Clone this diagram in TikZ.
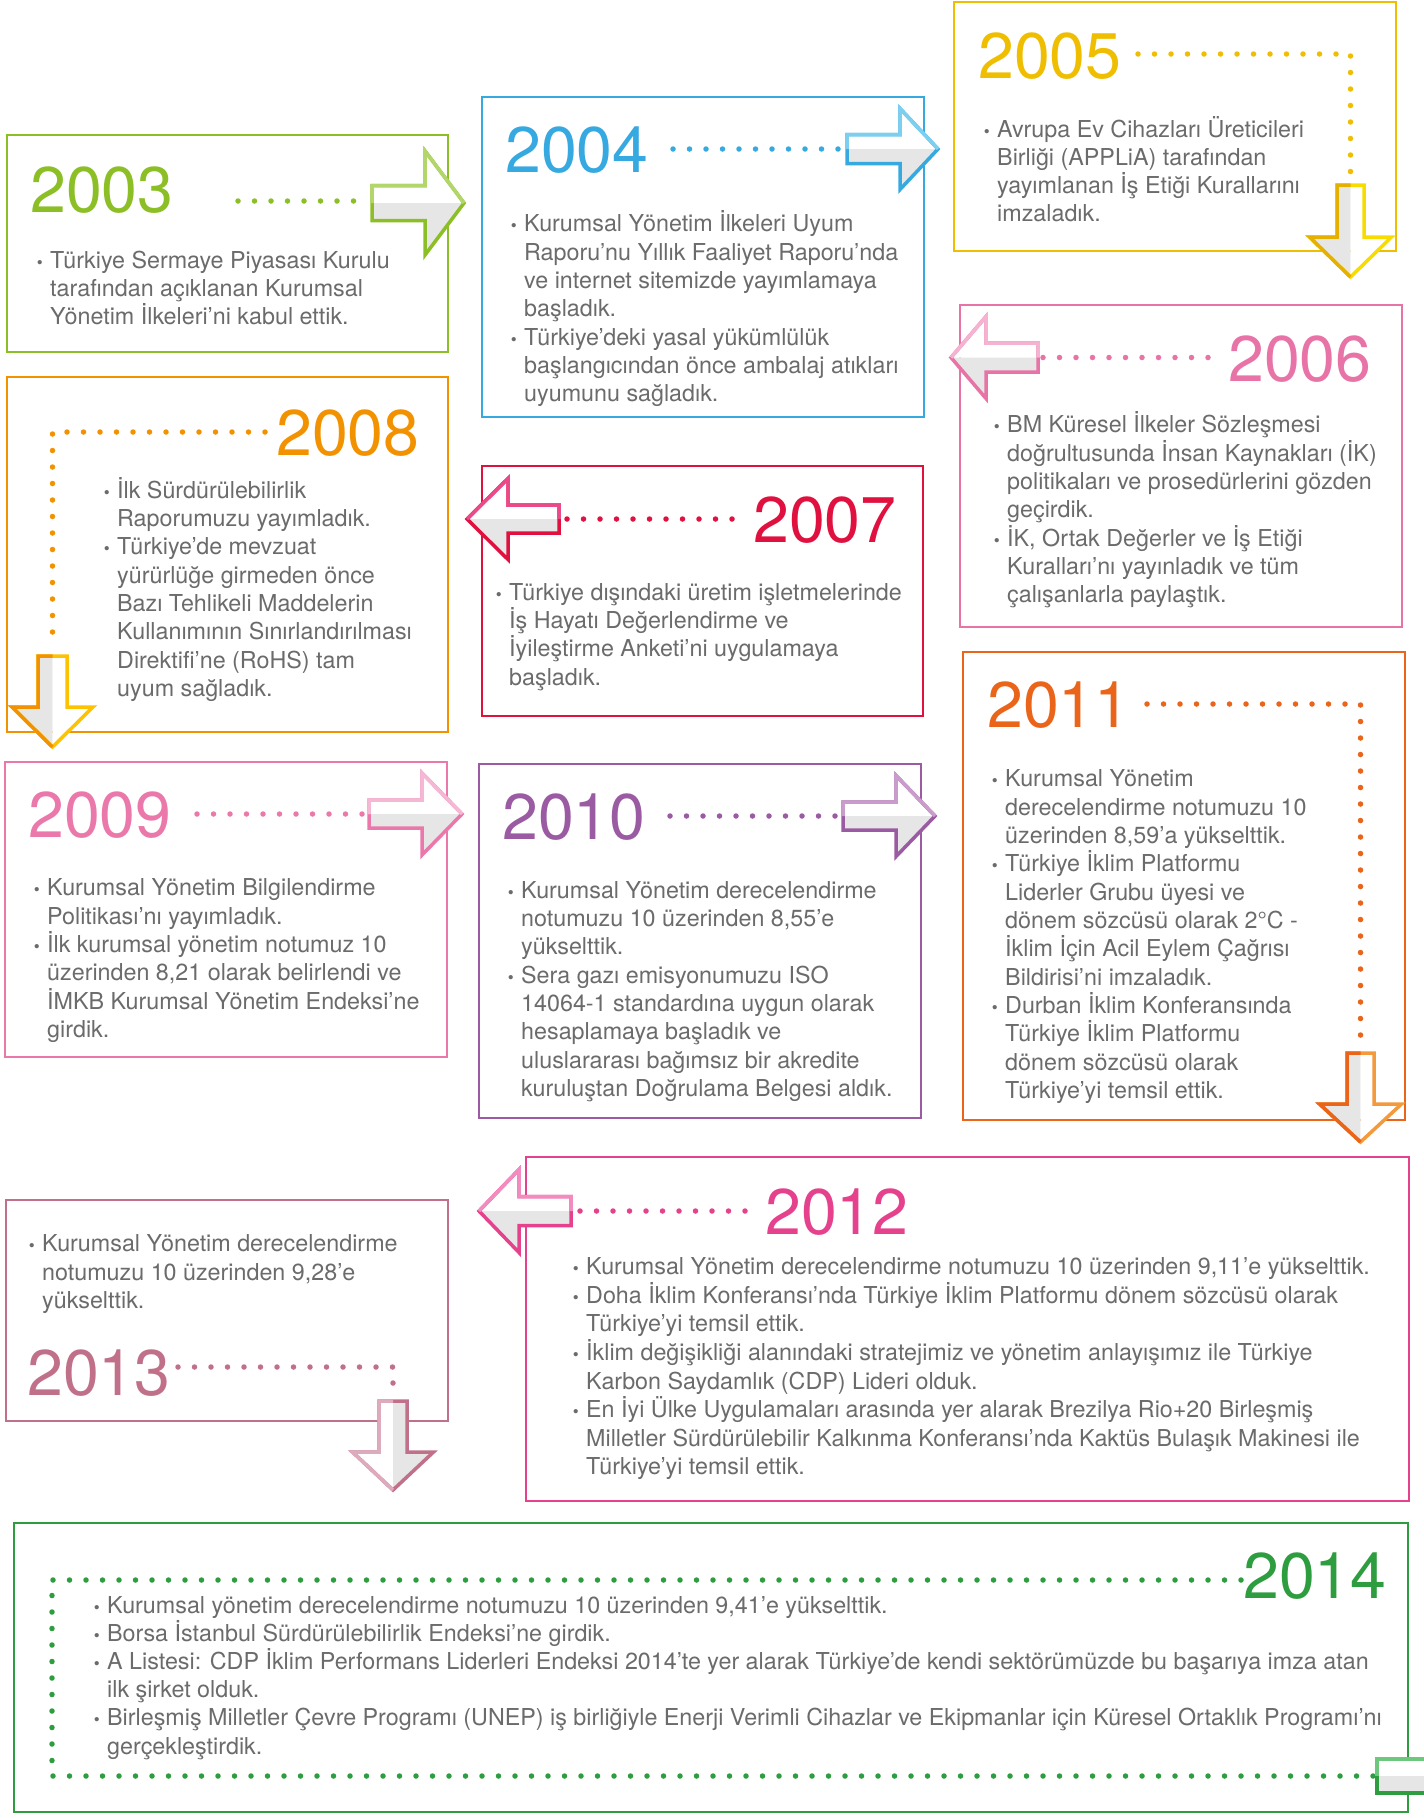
\documentclass[tikz,border=0pt]{standalone}
\usepackage{fontspec}
\setmainfont{TeX Gyre Heros}
\definecolor{tgray}{HTML}{6B6B6B}
\definecolor{agray}{HTML}{E6E6E6}
\definecolor{c03}{HTML}{8CBF26}\definecolor{l03}{HTML}{B3D66B}
\definecolor{c04}{HTML}{36A9E1}\definecolor{l04}{HTML}{7DCFF0}
\definecolor{c05}{HTML}{EFBE00}\definecolor{l05}{HTML}{F8DC00}\definecolor{d05}{HTML}{E6B000}
\definecolor{c06}{HTML}{E873A7}\definecolor{l06}{HTML}{F5B3D1}
\definecolor{c07}{HTML}{E0103F}\definecolor{l07}{HTML}{EA4A8A}
\definecolor{c08}{HTML}{F39200}\definecolor{l08}{HTML}{FDC300}
\definecolor{c09}{HTML}{EB78AA}\definecolor{l09}{HTML}{F5B8D4}
\definecolor{c10}{HTML}{9B5BA2}\definecolor{l10}{HTML}{C99CCC}
\definecolor{c11}{HTML}{EA6419}\definecolor{l11}{HTML}{F39B3C}
\definecolor{c12}{HTML}{E5418D}\definecolor{l12}{HTML}{F28CC0}
\definecolor{c13}{HTML}{C07189}\definecolor{l13}{HTML}{DEABBE}
\definecolor{c14}{HTML}{2E9D3F}\definecolor{l14}{HTML}{6DC77C}
\newcommand\bul{\llap{{\fontsize{17}{17}\selectfont •}\hspace{7.5pt}}}
\newcommand\sq{\symbol{39}}
\newcommand\tblock[5]{\foreach \tl [count=\ti from 0] in {#5}{\node[txt] (#1-\ti) at (#2,#3+#4*\ti) {\tl};}}
\newcommand\acol[4]{\colorlet{A1}{#1}\colorlet{A1f}{#2}\colorlet{A2}{#3}\colorlet{A2f}{#4}}
% horizontal arrow: tailx, cy, basex, tipx, shaft half, head half ; A1 upper, A2 lower
\newcommand\harr[6]{%
 \fill[A1f] (#1,#2-#5) -- (#3,#2-#5) -- (#3,#2-#6) -- (#4,#2) -- (#1,#2) -- cycle;
 \fill[A2f] (#1,#2+#5) -- (#3,#2+#5) -- (#3,#2+#6) -- (#4,#2) -- (#1,#2) -- cycle;
 \draw[A2,aline] (#1,#2-#5) -- (#3,#2-#5) -- (#3,#2-#6) -- (#4,#2) -- (#3,#2+#6) -- (#3,#2+#5) -- (#1,#2+#5) -- cycle;
 \draw[A1,aline] (#1,#2) -- (#1,#2-#5) -- (#3,#2-#5) -- (#3,#2-#6) -- (#4,#2);
}
% vertical arrow: cx, taily, basey, tipy, shaft half, head half ; A1 left, A2 right
\newcommand\varr[6]{%
 \fill[A1f] (#1-#5,#2) -- (#1-#5,#3) -- (#1-#6,#3) -- (#1,#4) -- (#1,#2) -- cycle;
 \fill[A2f] (#1+#5,#2) -- (#1+#5,#3) -- (#1+#6,#3) -- (#1,#4) -- (#1,#2) -- cycle;
 \draw[A2,aline] (#1-#5,#2) -- (#1-#5,#3) -- (#1-#6,#3) -- (#1,#4) -- (#1+#6,#3) -- (#1+#5,#3) -- (#1+#5,#2) -- cycle;
 \draw[A1,aline] (#1,#2) -- (#1-#5,#2) -- (#1-#5,#3) -- (#1-#6,#3) -- (#1,#4);
}
\tikzset{
 box/.style={line width=2.5pt},
 yr/.style={anchor=base west, inner sep=0pt, font=\fontsize{64.5}{64.5}\selectfont},
 txt/.style={anchor=base west, inner sep=0pt, text=tgray, font=\fontsize{23.3}{28}\selectfont},
 dots/.style={line width=5.5pt, dash pattern=on 0pt off 16.5pt, line cap=round},
 aline/.style={line width=3.5pt, line join=miter},
}
\begin{document}
\begin{tikzpicture}[x=1pt,y=-1pt]
\useasboundingbox (0,0) rectangle (1424,1818);
\fill[white] (0,0) rectangle (1424,1818);
% ---------- boxes
\draw[box,c03] (7,135) rectangle (448,352);
\draw[box,c04] (482,97) rectangle (924,417);
\draw[box,c05] (954,2) rectangle (1396,251);
\draw[box,c06] (960,305) rectangle (1402,627);
\draw[box,c08] (7,377) rectangle (448,732);
\draw[box,c07] (482,466) rectangle (923,716);
\draw[box,c09] (5,762) rectangle (447,1057);
\draw[box,c10] (479,764) rectangle (921,1118);
\draw[box,c11] (963,652) rectangle (1405,1120);
\draw[box,c12] (526,1157) rectangle (1409,1501);
\draw[box,c13] (6,1200) rectangle (448,1421);
\draw[box,c14] (14,1523) rectangle (1408,1812);
% ---------- years
\node[yr,text=c03] (y03) at (30,212) {2003};
\node[yr,text=c04] (y04) at (505,172) {2004};
\node[yr,text=c05] (y05) at (978,78) {2005};
\node[yr,text=c06] (y06) at (1228,381) {2006};
\node[yr,text=c07] (y07) at (753,542) {2007};
\node[yr,text=c08] (y08) at (276,455) {2008};
\node[yr,text=c09] (y09) at (28,837) {2009};
\node[yr,text=c10] (y10) at (502,839) {2010};
\node[yr,text=c11] (y11) at (987,727) {2011};
\node[yr,text=c12] (y12) at (765,1234) {2012};
\node[yr,text=c13] (y13) at (27,1395) {2013};
\node[yr,text=c14] (y14) at (1243,1598) {2014};
% ---------- dotted connectors
\coordinate (d03a) at (238,201); \coordinate (d03b) at (362,201);
\draw[dots,c03] (d03a) -- (d03b);
\coordinate (d04a) at (673,149); \coordinate (d04b) at (842,149);
\draw[dots,c04] (d04a) -- (d04b);
\coordinate (d05a) at (1138,54); \coordinate (d05b) at (1350.5,54); \coordinate (d05c) at (1350.5,175);
\draw[dots,c05] (d05a) -- (d05b) -- (d05c);
\coordinate (d06a) at (1208,357.5); \coordinate (d06b) at (1042,357.5);
\draw[dots,c06] (d06a) -- (d06b);
\coordinate (d07a) at (732,519); \coordinate (d07b) at (564,519);
\draw[dots,c07] (d07a) -- (d07b);
\coordinate (d08a) at (265,432); \coordinate (d08b) at (52.5,432); \coordinate (d08c) at (52.5,645);
\draw[dots,c08] (d08a) -- (d08b) -- (d08c);
\coordinate (d09a) at (197,814); \coordinate (d09b) at (365,814);
\draw[dots,c09] (d09a) -- (d09b);
\coordinate (d10a) at (670,816); \coordinate (d10b) at (838,816);
\draw[dots,c10] (d10a) -- (d10b);
\coordinate (d11a) at (1147,704); \coordinate (d11b) at (1360.5,704); \coordinate (d11c) at (1360.5,1045);
\draw[dots,c11] (d11a) -- (d11b) -- (d11c);
\coordinate (d12a) at (745,1211); \coordinate (d12b) at (577,1211);
\draw[dots,c12] (d12a) -- (d12b);
\coordinate (d13a) at (178,1367); \coordinate (d13b) at (393,1367); \coordinate (d13c) at (393,1395);
\draw[dots,c13] (d13a) -- (d13b) -- (d13c);
\coordinate (d14a) at (1241,1580); \coordinate (d14b) at (52,1580); \coordinate (d14c) at (52,1776); \coordinate (d14d) at (1378,1776);
\draw[dots,c14] (d14a) -- (d14b) -- (d14c) -- (d14d);
% ---------- arrows
\acol{l03}{white}{c03}{agray}\harr{372}{203}{425}{464}{17.5}{52}
\acol{l04}{white}{c04}{agray}\harr{847}{149}{900}{938}{14.5}{40.5}
\acol{d05}{agray}{l05}{white}\varr{1350.5}{185}{237}{277}{13.5}{41}
\acol{l06}{white}{c06}{agray}\harr{1038}{357.5}{986}{951}{14.5}{41}
\acol{l07}{white}{c07}{agray}\harr{559}{519}{508}{467}{14}{40.5}
\acol{c08}{agray}{l08}{white}\varr{52.5}{656}{707}{747}{14.5}{40.5}
\acol{l09}{white}{c09}{agray}\harr{369}{814}{422}{462}{14}{41}
\acol{l10}{white}{c10}{agray}\harr{843}{816}{896}{935}{14}{40.5}
\acol{c11}{agray}{l11}{white}\varr{1360.5}{1053}{1104}{1142}{13.5}{41}
\acol{l12}{white}{c12}{agray}\harr{571}{1211}{519}{479}{14.5}{41.5}
\acol{l13}{white}{c13}{agray}\varr{393}{1401}{1452}{1490}{14}{40.5}
% 2014 arrow (cut by the page edge)
\fill[white] (1377,1759) rectangle (1430,1776);
\fill[agray] (1377,1776) rectangle (1430,1793);
\draw[l14,aline] (1430,1759) -- (1377,1759) -- (1377,1776);
\draw[c14,aline] (1377,1776) -- (1377,1793) -- (1430,1793);
% ---------- texts
\tblock{t03}{50}{268}{28.33}{{\bul Türkiye Sermaye Piyasası Kurulu},{tarafından açıklanan Kurumsal},{Yönetim İlkeleri’ni kabul ettik.}}
\tblock{t04}{524}{231.7}{28.33}{{\bul Kurumsal Yönetim İlkeleri Uyum},{Raporu’nu Yıllık Faaliyet Raporu’nda},{ve internet sitemizde yayımlamaya},{başladık.},{\bul Türkiye’deki yasal yükümlülük},{başlangıcından önce ambalaj atıkları},{uyumunu sağladık.}}
\tblock{t05}{997}{137}{28.33}{{\bul Avrupa Ev Cihazları Üreticileri},{Birliği (APPLiA) tarafından},{yayımlanan İş Etiği Kurallarını},{imzaladık.}}
\tblock{t06}{1007}{432.7}{28.33}{{\bul BM Küresel İlkeler Sözleşmesi},{doğrultusunda İnsan Kaynakları (İK)},{politikaları ve prosedürlerini gözden},{geçirdik.},{\bul İK, Ortak Değerler ve İş Etiği},{Kuralları’nı yayınladık ve tüm},{çalışanlarla paylaştık.}}
\tblock{t07}{509}{600}{28.33}{{\bul Türkiye dışındaki üretim işletmelerinde},{İş Hayatı Değerlendirme ve},{İyileştirme Anketi’ni uygulamaya},{başladık.}}
\tblock{t08}{117}{498.3}{28.33}{{\bul İlk Sürdürülebilirlik},{Raporumuzu yayımladık.},{\bul Türkiye’de mevzuat},{yürürlüğe girmeden önce},{Bazı Tehlikeli Maddelerin},{Kullanımının Sınırlandırılması},{Direktifi’ne (RoHS) tam},{uyum sağladık.}}
\tblock{t09}{47}{895.7}{28.33}{{\bul Kurumsal Yönetim Bilgilendirme},{Politikası’nı yayımladık.},{\bul İlk kurumsal yönetim notumuz 10},{üzerinden 8,21 olarak belirlendi ve},{İMKB Kurumsal Yönetim Endeksi’ne},{girdik.}}
\tblock{t10}{521}{898.3}{28.33}{{\bul Kurumsal Yönetim derecelendirme},{notumuzu 10 üzerinden 8,55’e},{yükselttik.},{\bul Sera gazı emisyonumuzu ISO},{14064-1 standardına uygun olarak},{hesaplamaya başladık ve},{uluslararası bağımsız bir akredite},{kuruluştan Doğrulama Belgesi aldık.}}
\tblock{t11}{1005}{786.7}{28.33}{{\bul Kurumsal Yönetim},{derecelendirme notumuzu 10},{üzerinden 8,59’a yükselttik.},{\bul Türkiye İklim Platformu},{Liderler Grubu üyesi ve},{dönem sözcüsü olarak 2°C -},{İklim İçin Acil Eylem Çağrısı},{Bildirisi’ni imzaladık.},{\bul Durban İklim Konferansında},{Türkiye İklim Platformu},{dönem sözcüsü olarak},{Türkiye’yi temsil ettik.}}
\tblock{t12}{586}{1274.7}{28.6}{{\bul Kurumsal Yönetim derecelendirme notumuzu 10 üzerinden 9,11’e yükselttik.},{\bul Doha İklim Konferansı’nda Türkiye İklim Platformu dönem sözcüsü olarak},{Türkiye’yi temsil ettik.},{\bul İklim değişikliği alanındaki stratejimiz ve yönetim anlayışımız ile Türkiye},{Karbon Saydamlık (CDP) Lideri olduk.},{\bul En İyi Ülke Uygulamaları arasında yer alarak Brezilya Rio+20 Birleşmiş},{Milletler Sürdürülebilir Kalkınma Konferansı\sq nda Kaktüs Bulaşık Makinesi ile},{Türkiye’yi temsil ettik.}}
\tblock{t13}{42}{1251.7}{28.33}{{\bul Kurumsal Yönetim derecelendirme},{notumuzu 10 üzerinden 9,28’e},{yükselttik.}}
\tblock{t14}{107}{1613}{28.2}{{\bul Kurumsal yönetim derecelendirme notumuzu 10 üzerinden 9,41’e yükselttik.},{\bul Borsa İstanbul Sürdürülebilirlik Endeksi\sq ne girdik.},{\bul A Listesi: CDP İklim Performans Liderleri Endeksi 2014’te yer alarak Türkiye’de kendi sektörümüzde bu başarıya imza atan},{ilk şirket olduk.},{\bul Birleşmiş Milletler Çevre Programı (UNEP) iş birliğiyle Enerji Verimli Cihazlar ve Ekipmanlar için Küresel Ortaklık Programı’nı},{gerçekleştirdik.}}
\end{tikzpicture}
\end{document}
